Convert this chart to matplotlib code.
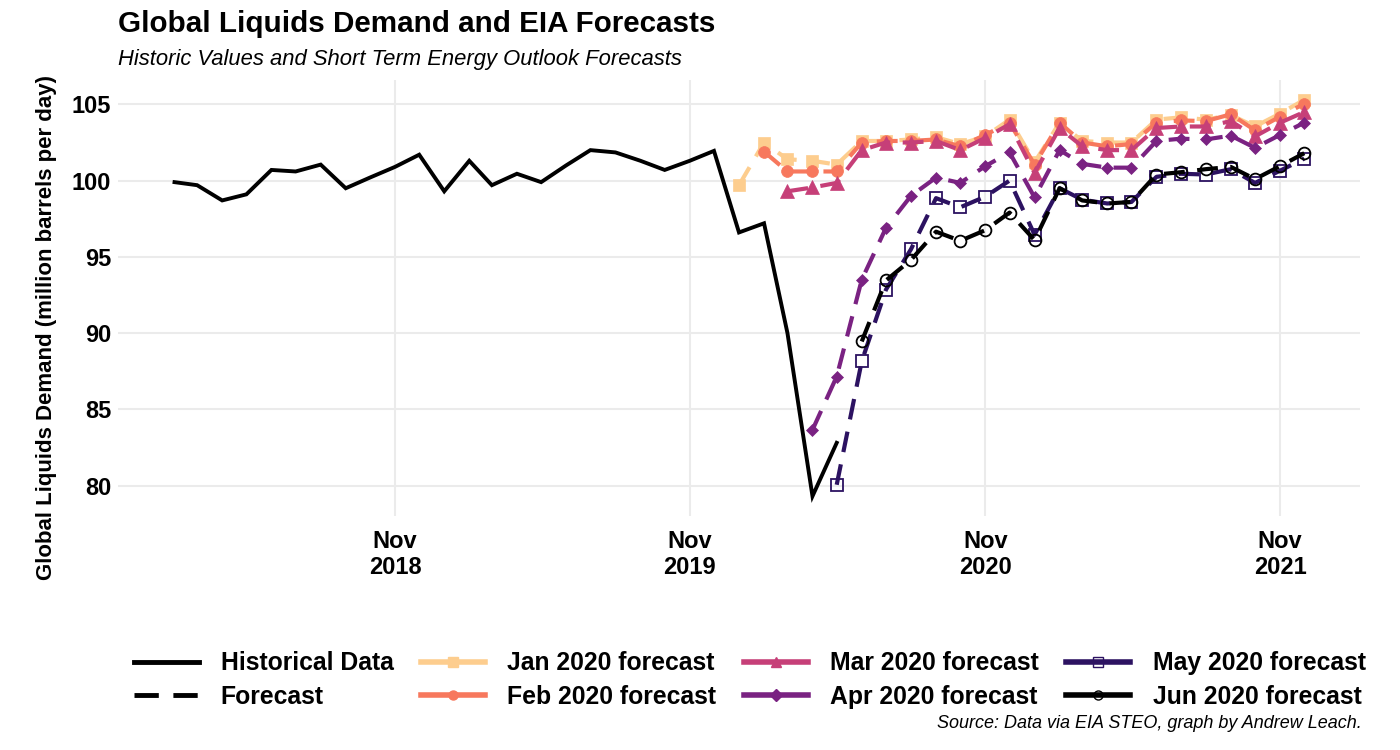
import matplotlib
matplotlib.use("Agg")
import matplotlib.pyplot as plt
import matplotlib.dates as mdates
from matplotlib.lines import Line2D
import pandas as pd
import numpy as np

plt.rcParams['font.family'] = ['Liberation Sans', 'DejaVu Sans']

# ---------------- data ----------------
hist_start = "2018-02-01"
hist_values = [99.9, 99.7, 98.7, 99.1, 100.7, 100.6, 101.05, 99.5, 100.2, 100.9,
               101.7, 99.3, 101.3, 99.7, 100.45, 99.9, 101.0, 102.0, 101.85, 101.3,
               100.7, 101.3, 101.95, 96.6, 97.2, 90.0, 79.3, 82.8]

forecast_labels = ["Jan 2020 forecast", "Feb 2020 forecast", "Mar 2020 forecast",
                   "Apr 2020 forecast", "May 2020 forecast", "Jun 2020 forecast"]
forecast_starts = ["2020-01-01", "2020-02-01", "2020-03-01",
                   "2020-04-01", "2020-05-01", "2020-06-01"]

jan_fc = [99.7, 102.5, 101.4, 101.3, 101.05, 102.6, 102.6, 102.7, 102.85, 102.4, 102.9, 104.0,
          101.2, 103.8, 102.6, 102.5, 102.5, 104.0, 104.15, 104.0, 104.3, 103.55, 104.4, 105.3]
feb_fc = [101.9, 100.6, 100.6, 100.6, 102.5, 102.6, 102.6, 102.7, 102.25, 103.0, 103.8,
          101.05, 103.8, 102.5, 102.25, 102.4, 103.8, 103.95, 103.9, 104.35, 103.3, 104.2, 105.05]
mar_fc = [99.3, 99.55, 99.85, 102.0, 102.5, 102.5, 102.6, 102.0, 102.8, 103.7,
          100.5, 103.45, 102.25, 102.0, 102.0, 103.45, 103.55, 103.55, 103.9, 102.9, 103.8, 104.5]
apr_fc = [83.65, 87.15, 93.5, 96.9, 99.0, 100.2, 99.85, 100.95, 101.85,
          98.9, 102.0, 101.1, 100.85, 100.85, 102.6, 102.75, 102.7, 102.95, 102.15, 103.0, 103.8]
may_fc = [80.05, 88.15, 92.85, 95.5, 98.85, 98.25, 98.95, 100.0,
          96.45, 99.5, 98.75, 98.5, 98.6, 100.25, 100.45, 100.4, 100.75, 99.85, 100.65, 101.45]
jun_fc = [89.45, 93.45, 94.8, 96.65, 96.05, 96.75, 97.9,
          96.1, 99.5, 98.7, 98.5, 98.6, 100.4, 100.55, 100.75, 100.9, 100.1, 100.95, 101.8]
forecast_values = [jan_fc, feb_fc, mar_fc, apr_fc, may_fc, jun_fc]

x_tick_dates = ["2018-11-01", "2019-11-01", "2020-11-01", "2021-11-01"]
y_ticks = [80, 85, 90, 95, 100, 105]

# ---------------- style ----------------
colors = ["#FDCD8E", "#F7785D", "#C63F78", "#7A2282", "#2C1261", "#000000"]
markers = ["s", "o", "^", "D", "s", "o"]
msizes = [8.5, 8.5, 9.5, 6.5, 8, 8.5]
filled = [True, True, True, True, False, False]

fig = plt.figure(figsize=(14, 7.5), dpi=100)
ax = fig.add_axes([118/1400, 1-516/750, (1360-118)/1400, (516-80)/750])

hist_dates = pd.date_range(hist_start, periods=len(hist_values), freq="MS")
ax.plot(hist_dates, hist_values, color="black", lw=2.8, solid_joinstyle="miter", zorder=3)

dash = (0, (5.0, 3.0))
for i, (lab, st, vals) in enumerate(zip(forecast_labels, forecast_starts, forecast_values)):
    d = pd.date_range(st, periods=len(vals), freq="MS")
    ax.plot(d, vals, color=colors[i], lw=3, linestyle=dash, zorder=4 + i)
    ax.plot(d, vals, linestyle="none", marker=markers[i], markersize=msizes[i],
            markerfacecolor=colors[i] if filled[i] else "none",
            markeredgecolor=colors[i], markeredgewidth=1.3 if not filled[i] else 0.5,
            zorder=4 + i)

ax.set_xlim(pd.Timestamp("2017-11-23"), pd.Timestamp("2022-02-08"))
ax.set_ylim(78.0, 106.6)
ax.set_yticks(y_ticks)
ax.set_yticklabels([str(v) for v in y_ticks])
xt = pd.to_datetime(x_tick_dates)
ax.set_xticks(xt)
ax.set_xticklabels([f"{t.strftime('%b')}\n{t.year}" for t in xt])
for lab in ax.get_xticklabels() + ax.get_yticklabels():
    lab.set_fontweight("bold")
    lab.set_fontsize(17)
ax.tick_params(axis="both", length=0, pad=5)
ax.tick_params(axis="x", pad=10)
ax.grid(True, color="#EBEBEB", lw=1.5)
ax.set_axisbelow(True)
for s in ax.spines.values():
    s.set_visible(False)

fig.text(47/1400, 1-327/750, "Global Liquids Demand (million barrels per day)",
         rotation=90, ha="center", va="center", fontsize=16, fontweight="bold")
fig.text(118/1400, 1-24/750, "Global Liquids Demand and EIA Forecasts",
         ha="left", va="center", fontsize=21.3, fontweight="bold")
fig.text(118/1400, 1-60/750, "Historic Values and Short Term Energy Outlook Forecasts",
         ha="left", va="center", fontsize=15.8, style="italic")
fig.text(1362/1400, 1-724/750, "Source: Data via EIA STEO, graph by Andrew Leach.",
         ha="right", va="center", fontsize=13, style="italic")

handles = [Line2D([], [], color="black", lw=3.5),
           Line2D([], [], color="black", lw=3.5, linestyle=(0, (5.0, 3.0)))]
for i in range(6):
    handles.append(Line2D([], [], color=colors[i], lw=4, marker=markers[i], markersize=6.5,
                          markerfacecolor=colors[i] if filled[i] else "none",
                          markeredgecolor=colors[i], markeredgewidth=1.0))
labels = ["Historical Data", "Forecast"] + forecast_labels
leg = fig.legend(handles, labels, ncol=4, loc="center", bbox_to_anchor=(750/1400, 1-680/750),
                 frameon=False, handlelength=2.6, handletextpad=0.9, columnspacing=1.1,
                 labelspacing=0.38, prop={"weight": "bold", "size": 17.8})

fig.savefig("out.png", dpi=100)
